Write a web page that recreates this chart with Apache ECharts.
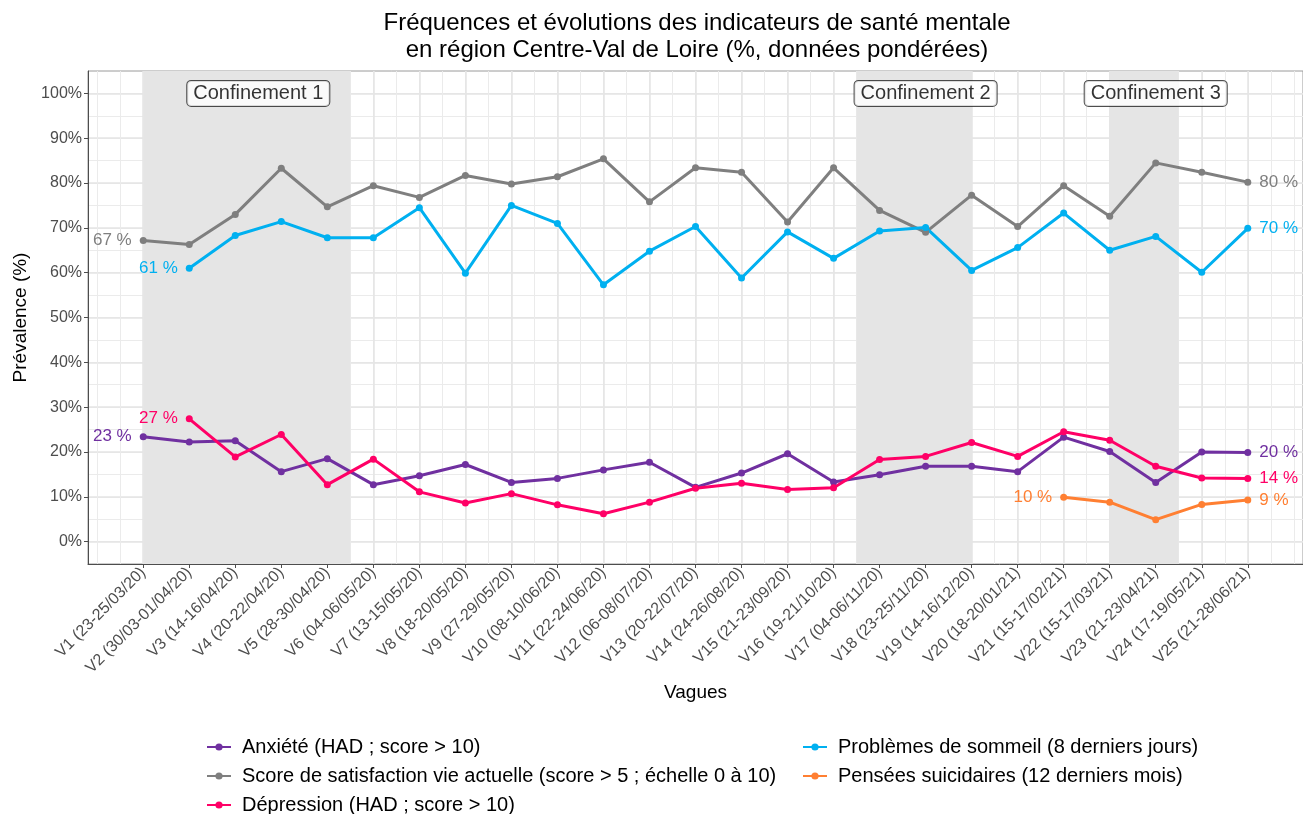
<!DOCTYPE html>
<html>
<head>
<meta charset="utf-8">
<script src="https://cdn.jsdelivr.net/npm/echarts@6/dist/echarts.min.js"></script>
<style>
  html, body { margin: 0; padding: 0; background: #fff; }
  #chart { width: 1303px; height: 814px; }
</style>
</head>
<body>
<div id="chart"></div>
<script>
// vagues d'enquete
var waves = ['V1 (23-25/03/20)', 'V2 (30/03-01/04/20)', 'V3 (14-16/04/20)', 'V4 (20-22/04/20)',
    'V5 (28-30/04/20)', 'V6 (04-06/05/20)', 'V7 (13-15/05/20)', 'V8 (18-20/05/20)',
    'V9 (27-29/05/20)', 'V10 (08-10/06/20)', 'V11 (22-24/06/20)', 'V12 (06-08/07/20)',
    'V13 (20-22/07/20)', 'V14 (24-26/08/20)', 'V15 (21-23/09/20)', 'V16 (19-21/10/20)',
    'V17 (04-06/11/20)', 'V18 (23-25/11/20)', 'V19 (14-16/12/20)', 'V20 (18-20/01/21)',
    'V21 (15-17/02/21)', 'V22 (15-17/03/21)', 'V23 (21-23/04/21)', 'V24 (17-19/05/21)',
    'V25 (21-28/06/21)'];

var anxiete = [23.4, 22.2, 22.5, 15.6, 18.5, 12.7, 14.7, 17.2, 13.2, 14.1, 16.0, 17.7, 12.1,
    15.3, 19.6, 13.3, 14.9, 16.8, 16.8, 15.6, 23.3, 20.1, 13.2, 20.0, 19.9];
var satisfaction = [67.2, 66.3, 73.0, 83.3, 74.7, 79.4, 76.8, 81.7, 79.8, 81.4, 85.4, 75.8, 83.4,
    82.4, 71.3, 83.4, 73.9, 69.0, 77.3, 70.3, 79.4, 72.6, 84.5, 82.4, 80.2];
var depression = [null, 27.4, 18.9, 23.9, 12.7, 18.4, 11.1, 8.6, 10.7, 8.2, 6.2, 8.8, 11.9,
    13.0, 11.6, 12.0, 18.3, 19.0, 22.1, 19.0, 24.5, 22.6, 16.8, 14.2, 14.1];
var sommeil = [null, 61.0, 68.3, 71.4, 67.8, 67.8, 74.5, 59.9, 75.0, 71.0, 57.3, 64.8, 70.3,
    58.8, 69.1, 63.2, 69.3, 70.1, 60.5, 65.6, 73.3, 65.0, 68.1, 60.1, 69.9];
var suicidaires = [null, null, null, null, null, null, null, null, null, null, null, null, null,
    null, null, null, null, null, null, null, 9.9, 8.8, 4.9, 8.3, 9.3];

// periodes de confinement (positions en vagues)
var confStart = [1, 16.5, 22];
var confEnd = [5.5, 19, 23.5];
var confLabels = ['Confinement 1', 'Confinement 2', 'Confinement 3'];
var confLabelX = [3.5, 18, 23];

var yTicks = [0, 10, 20, 30, 40, 50, 60, 70, 80, 90, 100];

var FONT = 'Liberation Sans, Arial, sans-serif';

var halfX = [];
for (var i = 0; i <= 52; i++) halfX.push(i / 2);
var waveX = [];
for (var i = 1; i <= waves.length; i++) waveX.push(i);
var halfY = [];
for (var i = 0; i <= 20; i++) halfY.push(i * 5);

function buildData(values, color) {
    var pts = [];
    var first = -1, last = -1;
    values.forEach(function (v, i) {
        if (v != null) { if (first < 0) first = i; last = i; }
    });
    values.forEach(function (v, i) {
        if (v == null) return;
        var item = { value: [i + 1, v] };
        if (i === first || i === last) {
            item.label = {
                show: true,
                position: i === first ? 'left' : 'right',
                distance: 8,
                color: color,
                fontSize: 17,
                fontFamily: FONT,
                formatter: Math.round(v) + ' %'
            };
        }
        pts.push(item);
    });
    return pts;
}

function lineSerie(name, values, color) {
    return {
        name: name,
        type: 'line',
        xAxisIndex: 0,
        yAxisIndex: 0,
        data: buildData(values, color),
        symbol: 'circle',
        symbolSize: 7,
        itemStyle: { color: color },
        lineStyle: { color: color, width: 3 },
        emphasis: { disabled: true },
        z: 5
    };
}

var legendText = { fontFamily: FONT, fontSize: 20, color: '#000', lineHeight: 20, padding: [0, 0, 0, 6] };

var myChart = echarts.init(document.getElementById('chart'));

var option = {
    animation: false,
    backgroundColor: '#fff',
    title: {
        text: 'Fréquences et évolutions des indicateurs de santé mentale\nen région Centre-Val de Loire (%, données pondérées)',
        left: 692,
        top: 5,
        textAlign: 'center',
        textStyle: { fontFamily: FONT, fontSize: 24, fontWeight: 'normal', color: '#000', lineHeight: 27 }
    },
    legend: [{
        data: ['Anxiété (HAD ; score > 10)', 'Score de satisfaction vie actuelle (score > 5 ; échelle 0 à 10)', 'Dépression (HAD ; score > 10)'],
        orient: 'vertical',
        left: 206,
        top: 737,
        height: 100,
        padding: 0,
        itemWidth: 24,
        itemHeight: 9,
        itemGap: 9,
        textStyle: legendText
    }, {
        data: ['Problèmes de sommeil (8 derniers jours)', 'Pensées suicidaires (12 derniers mois)'],
        orient: 'vertical',
        left: 802,
        top: 737,
        height: 100,
        padding: 0,
        itemWidth: 24,
        itemHeight: 9,
        itemGap: 9,
        textStyle: legendText
    }],
    grid: {
        left: 88,
        top: 71,
        right: -4,
        bottom: 250,
        show: true,
        borderColor: '#9a9a9a',
        borderWidth: 1,
        backgroundColor: 'transparent'
    },
    xAxis: [{
        type: 'value',
        min: -0.2,
        max: 26.2,
        axisLine: { show: false },
        axisTick: { show: false, customValues: halfX },
        axisLabel: { show: false, customValues: halfX },
        splitLine: { show: true, lineStyle: { color: '#ebebeb', width: 1 } }
    }, {
        type: 'value',
        min: -0.2,
        max: 26.2,
        position: 'bottom',
        name: 'Vagues',
        nameLocation: 'middle',
        nameGap: 118,
        nameTextStyle: { fontFamily: FONT, fontSize: 19, color: '#000' },
        axisLine: { show: true, onZero: false, lineStyle: { color: '#4d4d4d', width: 1 } },
        axisTick: { show: true, customValues: waveX, length: 4, lineStyle: { color: '#4d4d4d' } },
        axisLabel: {
            customValues: waveX,
            rotate: 45,
            margin: 6,
            fontFamily: FONT,
            fontSize: 16,
            color: '#4d4d4d',
            formatter: function (v) { return waves[Math.round(v) - 1] || ''; }
        },
        splitLine: { show: true, lineStyle: { color: '#e4e4e4', width: 1.5 } }
    }],
    yAxis: [{
        type: 'value',
        min: -5,
        max: 105,
        axisLine: { show: false },
        axisTick: { show: false, customValues: halfY },
        axisLabel: { show: false, customValues: halfY },
        splitLine: { show: true, lineStyle: { color: '#ebebeb', width: 1 } }
    }, {
        type: 'value',
        min: -5,
        max: 105,
        position: 'left',
        name: 'Prévalence (%)',
        nameLocation: 'middle',
        nameGap: 52,
        nameTextStyle: { fontFamily: FONT, fontSize: 19, color: '#000' },
        axisLine: { show: true, onZero: false, lineStyle: { color: '#4d4d4d', width: 1 } },
        axisTick: { show: true, customValues: yTicks, length: 4, lineStyle: { color: '#4d4d4d' } },
        axisLabel: {
            customValues: yTicks,
            margin: 6,
            fontFamily: FONT,
            fontSize: 16,
            color: '#4d4d4d',
            formatter: function (v) { return v + '%'; }
        },
        splitLine: { show: true, lineStyle: { color: '#e4e4e4', width: 1.5 } }
    }],
    series: [{
        name: 'confinements',
        type: 'line',
        data: [],
        z: 1,
        silent: true,
        markArea: {
            silent: true,
            itemStyle: { color: '#e5e5e5' },
            data: confStart.map(function (s, i) {
                return [{ xAxis: s, yAxis: -5 }, { xAxis: confEnd[i], yAxis: 105 }];
            })
        }
    }, {
        name: 'labels confinement',
        type: 'scatter',
        symbolSize: 0,
        z: 6,
        silent: true,
        data: confLabels.map(function (t, i) { return { value: [confLabelX[i], 100], name: t }; }),
        label: {
            show: true,
            position: 'inside',
            formatter: function (p) { return p.name; },
            fontFamily: FONT,
            fontSize: 20,
            color: '#000',
            backgroundColor: '#fff',
            borderColor: '#222',
            borderWidth: 1,
            borderRadius: 4,
            padding: [3, 6, 2, 6]
        }
    },
        lineSerie('Anxiété (HAD ; score > 10)', anxiete, '#7030a0'),
        lineSerie('Score de satisfaction vie actuelle (score > 5 ; échelle 0 à 10)', satisfaction, '#7f7f7f'),
        lineSerie('Dépression (HAD ; score > 10)', depression, '#ff0066'),
        lineSerie('Problèmes de sommeil (8 derniers jours)', sommeil, '#00b0f0'),
        lineSerie('Pensées suicidaires (12 derniers mois)', suicidaires, '#ff7f32')
    ]
};

myChart.setOption(option);
window.addEventListener('resize', function () { myChart.resize(); });
</script>
</body>
</html>
